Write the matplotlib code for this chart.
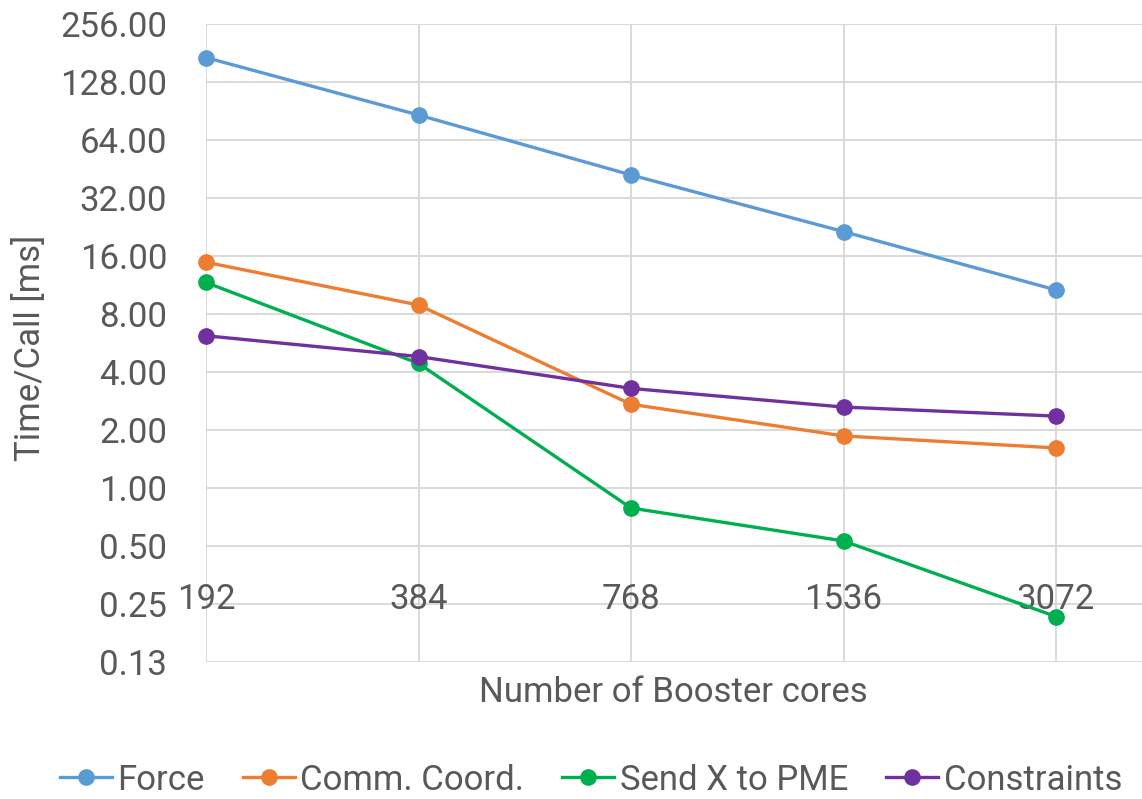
import matplotlib
matplotlib.use("Agg")
import matplotlib.pyplot as plt
from decimal import Decimal, ROUND_HALF_UP
from matplotlib.ticker import FixedLocator, FuncFormatter

plt.rcParams['font.family'] = ['Roboto', 'DejaVu Sans']

# Booster core counts (categorical x axis)
CORES = ["192", "384", "768", "1536", "3072"]

# Time per call in ms
force = [172.0, 86.6, 42.3, 21.5, 10.7]
comm_coord = [14.9, 8.94, 2.73, 1.87, 1.62]
send_x_pme = [11.7, 4.45, 0.79, 0.533, 0.216]
constraints = [6.19, 4.83, 3.30, 2.64, 2.37]

SERIES = [
    ("Force", force, "#5B9BD5"),
    ("Comm. Coord.", comm_coord, "#ED7D31"),
    ("Send X to PME", send_x_pme, "#00B050"),
    ("Constraints", constraints, "#7030A0"),
]

Y_TICKS = [0.125, 0.25, 0.5, 1, 2, 4, 8, 16, 32, 64, 128, 256]

TEXT = "#595959"
GRID = "#D9D9D9"
FS = 25


def two_dec(v, pos=None):
    # round half up so 0.125 reads 0.13
    d = Decimal(str(float(v))).quantize(Decimal("0.01"), rounding=ROUND_HALF_UP)
    return str(d)


W, H = 1142, 799
fig = plt.figure(figsize=(W / 100, H / 100), dpi=100)
ax = fig.add_axes([206 / W, (H - 662.3) / H, 1 - 206 / W, (662.3 - 24.3) / H])

x = list(range(len(CORES)))
for name, vals, color in SERIES:
    ax.plot(x, vals, color=color, lw=2.4, marker='o', ms=11, label=name,
            clip_on=False, zorder=3)

ax.set_yscale('log', base=2)
ax.set_ylim(0.125, 256)
ax.set_xlim(0, (W - 206) / 212.5)

ax.yaxis.set_major_locator(FixedLocator(Y_TICKS))
ax.yaxis.set_minor_locator(FixedLocator([]))
ax.yaxis.set_major_formatter(FuncFormatter(two_dec))
ax.set_xticks(x)
ax.set_xticklabels([])

ax.grid(True, color=GRID, lw=1.4)
ax.set_axisbelow(True)
for s in ax.spines.values():
    s.set_visible(False)
ax.tick_params(axis='both', length=0)
ax.tick_params(axis='y', labelsize=FS, labelcolor=TEXT, pad=28)

# category labels sit on the 0.25 line, where the x axis crosses
for xi, lab in zip(x, CORES):
    ax.annotate(lab, (xi, 0.25), xytext=(0, -5), textcoords='offset pixels',
                ha='center', va='baseline', fontsize=FS, color=TEXT,
                annotation_clip=False, zorder=2)

fig.text(673 / W, (H - 693) / H, "Number of Booster cores", ha='center',
         va='center', fontsize=FS, color=TEXT)
fig.text(30 / W, (H - 348) / H, "Time/Call [ms]", ha='center', va='center',
         rotation=90, fontsize=FS, color=TEXT)

fig.legend(loc='center', bbox_to_anchor=(591 / W, (H - 780) / H), ncol=4,
           frameon=False, fontsize=FS, labelcolor=TEXT, handlelength=1.5,
           handletextpad=0.15, columnspacing=1.1, borderaxespad=0)

fig.savefig("out.png", dpi=100)
